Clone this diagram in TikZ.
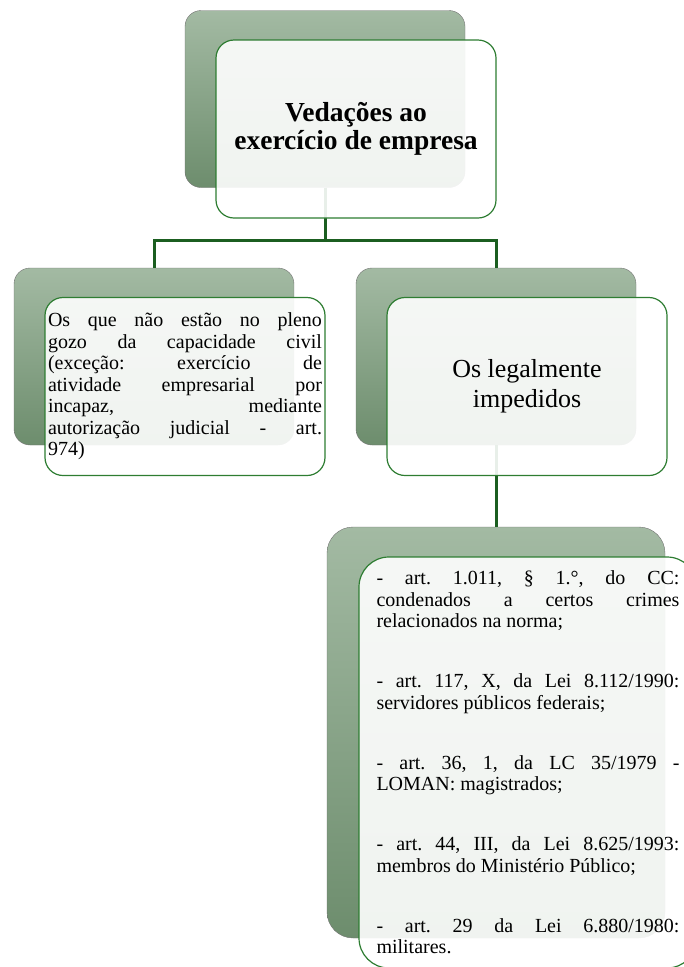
\documentclass[tikz,border=0pt]{standalone}
\usepackage{fontspec}
\setmainfont{Liberation Serif}
\usetikzlibrary{positioning}
\setlength{\parindent}{0pt}
\frenchspacing
\definecolor{leafdark}{HTML}{6D8D6D}
\definecolor{leaflight}{HTML}{A3BAA3}
\definecolor{rimgreen}{HTML}{2E7D32}
\definecolor{linkgreen}{HTML}{1B5E20}
\tikzset{backbox/.style={draw=black!55, thin, rounded corners=16pt, top color=leaflight, bottom color=leafdark, minimum width=280pt, minimum height=177pt, inner sep=0pt}}
\tikzset{frontbox/.style={draw=rimgreen, line width=1.2pt, rounded corners=18pt, fill=white, fill opacity=0.9, text opacity=1, minimum width=280pt, minimum height=178pt, inner sep=0pt}}
\tikzset{link/.style={draw=linkgreen, line width=3pt}}
\tikzset{bodytext/.style={font=\fontsize{20}{21.5}\selectfont, align=justify}}

\begin{document}
\begin{tikzpicture}[x=1pt,y=-1pt]
  \useasboundingbox (0,0) rectangle (684,967);
  \clip (0,0) rectangle (684,967);
  % back boxes
  \node[backbox] (vedB) at (325,99) {};
  \node[backbox] (capB) at (154,356.5) {};
  \node[backbox] (impB) at (496,356.5) {};
  \node[backbox, rounded corners=26pt, minimum width=338pt, minimum height=411pt] (lisB) at (496,732.5) {};
  % links
  \draw[link] (vedB.south) -- ++(0,53) -| (capB.north);
  \draw[link] (vedB.south) -- ++(0,53) -| (impB.north);
  \draw[link] (impB.south) -- (lisB.north);
  % front boxes
  \node[frontbox, font=\bfseries\fontsize{27.5}{28}\selectfont, align=center] (vedF) at ([shift={(31,30)}]vedB) {Vedações ao\\exercício de empresa};
  \node[frontbox, bodytext, text width=274pt] (capF) at ([shift={(31,30)}]capB) {Os que não estão no pleno\linebreak gozo da capacidade civil\linebreak (exceção: exercício de\linebreak atividade empresarial por\linebreak incapaz, mediante\linebreak autorização judicial - art.\linebreak 974)};
  \node[frontbox, font=\fontsize{26}{30}\selectfont, align=center] (impF) at ([shift={(31,30)}]impB) {Os legalmente\\impedidos};
  \node[frontbox, bodytext, rounded corners=30pt, minimum width=338pt, minimum height=411pt, text width=303pt] (lisF) at ([shift={(32,30)}]lisB) {%
    - art. 1.011, § 1.°, do CC:\linebreak condenados a certos crimes\linebreak relacionados na norma;\par\vspace{38.5pt}
    - art. 117, X, da Lei 8.112/1990:\linebreak servidores públicos federais;\par\vspace{38.5pt}
    - art. 36, 1, da LC 35/1979 -\linebreak LOMAN: magistrados;\par\vspace{38.5pt}
    - art. 44, III, da Lei 8.625/1993:\linebreak membros do Ministério Público;\par\vspace{38.5pt}
    - art. 29 da Lei 6.880/1980:\linebreak militares.};
\end{tikzpicture}
\end{document}
